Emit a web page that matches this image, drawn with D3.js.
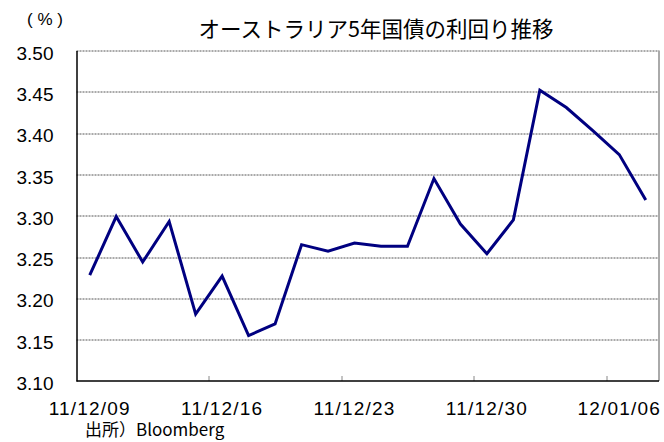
<!DOCTYPE html>
<html>
<head>
<meta charset="utf-8">
<script src="https://cdn.jsdelivr.net/npm/d3@7"></script>
<style>
  body { margin: 0; background: #fff; }
  text { font-family: "Liberation Sans", Arial, sans-serif; fill: #000; }
  .jp { font-family: "Noto Sans CJK JP", "Liberation Sans", sans-serif; }
</style>
</head>
<body>
<svg id="chart" width="664" height="442"></svg>
<script>
const dates = [
  "11/12/09", "11/12/12", "11/12/13", "11/12/14", "11/12/15",
  "11/12/16", "11/12/19", "11/12/20", "11/12/21", "11/12/22",
  "11/12/23", "11/12/26", "11/12/27", "11/12/28", "11/12/29",
  "11/12/30", "12/01/02", "12/01/03", "12/01/04", "12/01/05",
  "12/01/06", "12/01/09"
];
const yields = [
  3.228, 3.299, 3.244, 3.293, 3.181,
  3.227, 3.155, 3.169, 3.265, 3.257,
  3.267, 3.263, 3.263, 3.345, 3.290,
  3.254, 3.295, 3.452, 3.431, 3.403,
  3.374, 3.319
];
const yTicks = [3.10, 3.15, 3.20, 3.25, 3.30, 3.35, 3.40, 3.45, 3.50];
const labelEvery = 5;

const title = "オーストラリア5年国債の利回り推移";
const unit = "( % )";
const source = "出所）Bloomberg";

const svg = d3.select("#chart");
const margin = { left: 76.5, right: 5, top: 50.5, bottom: 61 };
const width = 664 - margin.left - margin.right;
const height = 442 - margin.top - margin.bottom;

const chart = svg.append("g")
  .attr("transform", "translate(" + margin.left + "," + margin.top + ")");

const xScale = d3.scaleBand()
  .domain(dates)
  .range([0, width]);

const yScale = d3.scaleLinear()
  .domain([3.10, 3.50])
  .range([height, 0]);

// gridlines
chart.selectAll(".grid")
  .data(yTicks.slice(1))
  .join("line")
  .attr("class", "grid")
  .attr("x1", 0)
  .attr("x2", width)
  .attr("y1", d => Math.round(yScale(d)) + 0.5)
  .attr("y2", d => Math.round(yScale(d)) + 0.5)
  .attr("stroke", "#555")
  .attr("stroke-width", 1)
  .attr("stroke-dasharray", "2,1");

// right border of plot area
chart.append("line")
  .attr("x1", width).attr("x2", width)
  .attr("y1", yScale(3.50)).attr("y2", height)
  .attr("stroke", "#aaa")
  .attr("stroke-width", 2);

// y axis
const yAxis = chart.append("g")
  .call(d3.axisLeft(yScale).tickValues(yTicks).tickSize(0).tickPadding(23)
    .tickFormat(d3.format(".2f")));
yAxis.select(".domain").attr("stroke", "#000").attr("stroke-width", 1.5);
yAxis.selectAll("text")
  .attr("font-size", 19)
  .attr("dy", "0.45em")
  .style("font-family", "'Liberation Sans', Arial, sans-serif");

// x axis: ticks between categories, label every 5th category
const boundaries = dates.filter((d, i) => i % labelEvery === 0 && i > 0);
chart.selectAll(".xtick")
  .data(boundaries)
  .join("line")
  .attr("class", "xtick")
  .attr("x1", d => Math.round(xScale(d)) + 0.5)
  .attr("x2", d => Math.round(xScale(d)) + 0.5)
  .attr("y1", height)
  .attr("y2", height - 5)
  .attr("stroke", "#888");

chart.append("line")
  .attr("x1", 0).attr("x2", width)
  .attr("y1", height).attr("y2", height)
  .attr("stroke", "#000")
  .attr("stroke-width", 1.5);

chart.selectAll(".xlabel")
  .data(dates.filter((d, i) => i % labelEvery === 0))
  .join("text")
  .attr("class", "xlabel")
  .attr("x", d => xScale(d) + xScale.bandwidth() / 2)
  .attr("y", height + 34)
  .attr("text-anchor", "middle")
  .attr("font-size", 19)
  .attr("letter-spacing", 1.2)
  .text(d => d);

// line
const line = d3.line()
  .x((d, i) => xScale(dates[i]) + xScale.bandwidth() / 2)
  .y(d => yScale(d));

chart.append("path")
  .datum(yields)
  .attr("d", line)
  .attr("fill", "none")
  .attr("stroke", "#000080")
  .attr("stroke-width", 3)
  .attr("stroke-linejoin", "miter");

// texts
svg.append("text")
  .attr("class", "jp")
  .attr("x", 376)
  .attr("y", 37)
  .attr("text-anchor", "middle")
  .attr("font-size", 21.5)
  .text(title);

svg.append("text")
  .attr("x", 45)
  .attr("y", 25)
  .attr("text-anchor", "middle")
  .attr("font-size", 17)
  .text(unit);

svg.append("text")
  .attr("class", "jp")
  .attr("x", 85)
  .attr("y", 436)
  .attr("font-size", 17)
  .text(source);
</script>
</body>
</html>
